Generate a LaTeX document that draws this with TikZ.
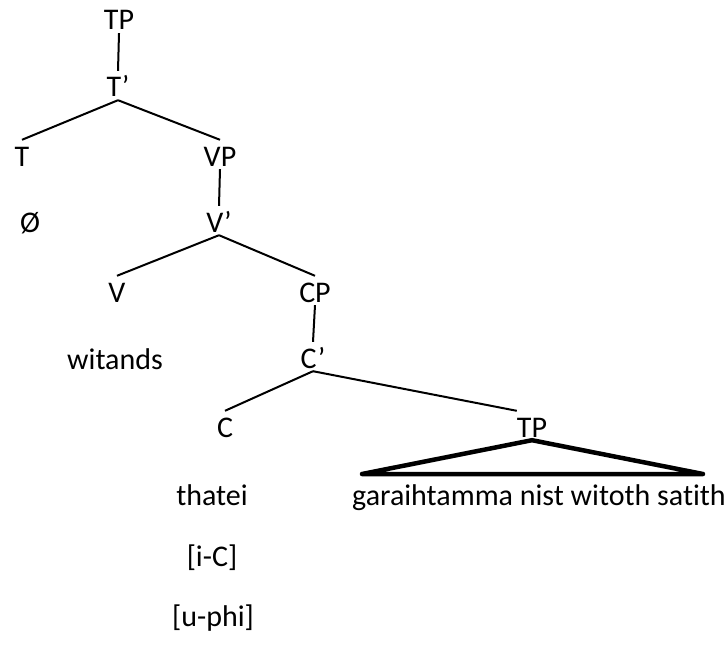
\documentclass[tikz,border=0pt]{standalone}
\usepackage{fontspec}
\setmainfont[Ligatures=NoCommon]{Carlito}
\usetikzlibrary{positioning}

\begin{document}
\begin{tikzpicture}[
        x=1pt, y=-1pt,
        lbl/.style={inner sep=0pt, anchor=base, text height=26pt, text depth=3pt, font=\fontsize{30}{34}\selectfont},
        br/.style={line width=2pt},
        tri/.style={line width=4.5pt, line join=round, line cap=round}
    ]
    \useasboundingbox (0,0) rectangle (725,650);

    % labels, placed by their baselines
    \node[lbl] (tp)      at (119,30)  {TP};
    \node[lbl] (tbar)    at (118,97)  {T’};
    \node[lbl] (t)       at (22,166)  {T};
    \node[lbl] (vp)      at (220,166) {VP};
    \node[lbl] (null)    at (30,232)  {Ø};
    \node[lbl] (vbar)    at (219,232) {V’};
    \node[lbl] (v)       at (117,302) {V};
    \node[lbl] (cp)      at (315,302) {CP};
    \node[lbl] (witands) at (115,369) {witands};
    \node[lbl] (cbar)    at (313,368) {C’};
    \node[lbl] (c)       at (225,437) {C};
    \node[lbl] (tp2)     at (532,437) {TP};
    \node[lbl] (yield)   at (539,505) {garaihtamma nist witoth satith};
    \node[lbl] (thatei)  at (212,505) {thatei};
    \node[lbl] (ic)      at (212,566) {[i-C]};
    \node[lbl] (uphi)    at (213,626) {[u-phi]};

    % branches
    \draw[br] (tp.south) -- (tbar.north);
    \draw[br] (tbar.south) -- (t.north);
    \draw[br] (tbar.south) -- (vp.north);
    \draw[br] (vp.south) -- (vbar.north);
    \draw[br] (vbar.south) -- (v.north);
    \draw[br] (vbar.south) -- (cp.north);
    \draw[br] (cp.south) -- (cbar.north);
    \draw[br] (cbar.south) -- (c.north);
    \draw[br] (cbar.south) -- (tp2.north west);

    % triangle over the embedded TP
    \coordinate (tl) at (362,474);
    \coordinate (tr) at (703,474);
    \draw[tri] (tp2.south) -- (tl) -- (tr) -- cycle;
\end{tikzpicture}
\end{document}
